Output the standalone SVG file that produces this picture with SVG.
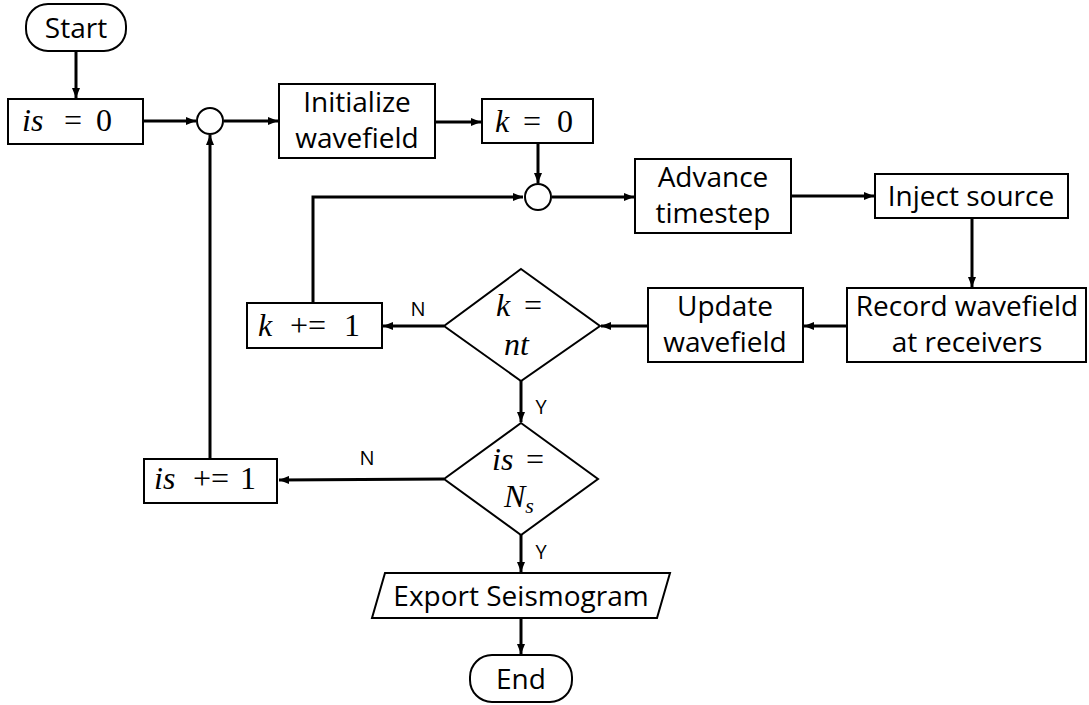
<svg xmlns="http://www.w3.org/2000/svg" width="1089" height="705" viewBox="0 0 1089 705">
<style>
.shape{fill:#fff;stroke:#000;stroke-width:2}
.t{font-family:"Open Sans","Liberation Sans",sans-serif;font-size:28px;fill:#000;text-anchor:middle}
.m{font-family:"Liberation Serif","DejaVu Serif",serif;font-size:32px;fill:#000}
.i{font-style:italic}
.lbl{font-family:"Open Sans","Liberation Sans",sans-serif;font-size:20px;fill:#000;text-anchor:middle}
.c{fill:none;stroke:#000;stroke-width:3}
</style>
<defs>
<marker id="ah" markerWidth="10" markerHeight="8" refX="10" refY="4" orient="auto" markerUnits="userSpaceOnUse">
<path d="M0,0 L10,4 L0,8 Z" fill="#000"/>
</marker>
</defs>
<g id="connectors">
<path class="c" d="M76,51 V98" marker-end="url(#ah)"/>
<path class="c" d="M143,121 H196" marker-end="url(#ah)"/>
<path class="c" d="M224,121 H278" marker-end="url(#ah)"/>
<path class="c" d="M435,122 H481" marker-end="url(#ah)"/>
<path class="c" d="M538,143 V183" marker-end="url(#ah)"/>
<path class="c" d="M313,303 V197 H523" marker-end="url(#ah)"/>
<path class="c" d="M552,197 H634" marker-end="url(#ah)"/>
<path class="c" d="M791,196 H874" marker-end="url(#ah)"/>
<path class="c" d="M972,218 V287" marker-end="url(#ah)"/>
<path class="c" d="M847,326 H804" marker-end="url(#ah)"/>
<path class="c" d="M648,326 H601" marker-end="url(#ah)"/>
<path class="c" d="M444,326 H383" marker-end="url(#ah)"/>
<path class="c" d="M521,381 V422" marker-end="url(#ah)"/>
<path class="c" d="M444,479 L279,480" marker-end="url(#ah)"/>
<path class="c" d="M210,459 V135" marker-end="url(#ah)"/>
<path class="c" d="M521,535 V572" marker-end="url(#ah)"/>
<path class="c" d="M521,619 V654" marker-end="url(#ah)"/>
<text class="lbl" x="418" y="316">N</text>
<text class="lbl" x="541" y="414">Y</text>
<text class="lbl" x="367" y="465">N</text>
<text class="lbl" x="541" y="559">Y</text>
</g>
<g id="start">
<rect class="shape" x="26" y="4" width="100" height="47" rx="22"/>
<text class="t" x="76" y="38">Start</text>
</g>
<g id="is0">
<rect class="shape" x="8" y="99" width="135" height="45"/>
<text class="m"><tspan class="i" x="22" y="131">is</tspan><tspan x="64" y="131">=</tspan><tspan x="96" y="131">0</tspan></text>
</g>
<g id="merge1">
<circle class="shape" cx="210" cy="121" r="13"/>
</g>
<g id="init">
<rect class="shape" x="279" y="84" width="156" height="74"/>
<text class="t"><tspan x="357" y="112">Initialize</tspan><tspan x="357" dy="36">wavefield</tspan></text>
</g>
<g id="k0">
<rect class="shape" x="482" y="99" width="111" height="44"/>
<text class="m"><tspan class="i" x="495" y="132">k</tspan><tspan x="523" y="132">=</tspan><tspan x="557" y="132">0</tspan></text>
</g>
<g id="merge2">
<circle class="shape" cx="538" cy="197" r="13"/>
</g>
<g id="advance">
<rect class="shape" x="635" y="159" width="156" height="74"/>
<text class="t"><tspan x="713" y="187">Advance</tspan><tspan x="713" dy="36">timestep</tspan></text>
</g>
<g id="inject">
<rect class="shape" x="875" y="174" width="193" height="44"/>
<text class="t" x="971" y="206">Inject source</text>
</g>
<g id="record">
<rect class="shape" x="847" y="288" width="239" height="74"/>
<text class="t"><tspan x="967" y="316">Record wavefield</tspan><tspan x="967" dy="36">at receivers</tspan></text>
</g>
<g id="update">
<rect class="shape" x="648" y="288" width="155" height="74"/>
<text class="t"><tspan x="725" y="316">Update</tspan><tspan x="725" dy="36">wavefield</tspan></text>
</g>
<g id="decision-k">
<path class="shape" d="M521,269 L600,326 L521,381 L444,326 Z"/>
<text class="m"><tspan class="i" x="496" y="316">k</tspan><tspan x="524" y="316">=</tspan><tspan class="i" x="504" y="355">nt</tspan></text>
</g>
<g id="kinc">
<rect class="shape" x="247" y="303" width="135" height="45"/>
<text class="m"><tspan class="i" x="258" y="336">k</tspan><tspan x="290" y="336">+=</tspan><tspan x="344" y="336">1</tspan></text>
</g>
<g id="decision-is">
<path class="shape" d="M521,423 L598,479 L521,535 L444,479 Z"/>
<text class="m"><tspan class="i" x="492" y="470">is</tspan><tspan x="526" y="470">=</tspan><tspan class="i" x="504" y="507">N</tspan><tspan class="i" font-size="22" dy="6">s</tspan></text>
</g>
<g id="isinc">
<rect class="shape" x="144" y="459" width="133" height="44"/>
<text class="m"><tspan class="i" x="154" y="489">is</tspan><tspan x="193" y="489">+=</tspan><tspan x="240" y="489">1</tspan></text>
</g>
<g id="export">
<path class="shape" d="M385,573 L670,573 L657,618 L372,618 Z"/>
<text class="t" x="521" y="606">Export Seismogram</text>
</g>
<g id="end">
<rect class="shape" x="470" y="655" width="102" height="47" rx="22"/>
<text class="t" x="521" y="689">End</text>
</g>
</svg>
